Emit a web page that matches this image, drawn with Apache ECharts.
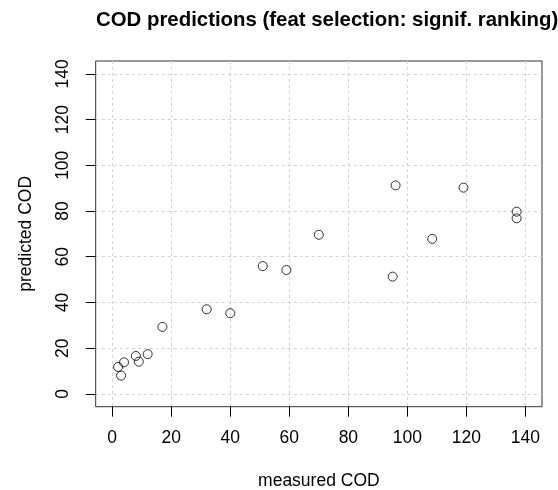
<!DOCTYPE html>
<html>
<head>
<meta charset="utf-8">
<script src="https://cdn.jsdelivr.net/npm/echarts@6/dist/echarts.min.js"></script>
<style>html,body{margin:0;padding:0;background:#fff;}#c{width:558px;height:490px;}</style>
</head>
<body>
<div id="c"></div>
<script>
var measured  = [2, 3, 4, 8, 9, 12, 17, 32, 40, 51, 59, 70, 95, 96, 108.4, 119, 137, 137];
var predicted = [11.8, 8, 13.8, 16.6, 14.1, 17.4, 29.3, 37, 35.3, 55.9, 54.2, 69.6, 51.3, 91.2, 67.8, 90.2, 79.7, 76.8];
var xTicks = [0, 20, 40, 60, 80, 100, 120, 140];
var yTicks = [0, 20, 40, 60, 80, 100, 120, 140];
var xLim = [0, 140];
var yLim = [0, 140];

var points = measured.map(function (m, i) { return [m, predicted[i]]; });
function ext(lim) { var d = (lim[1] - lim[0]) * 0.04; return [lim[0] - d, lim[1] + d]; }
var xr = ext(xLim), yr = ext(yLim);
var FONT = '"Liberation Sans", Arial, sans-serif';

var chart = echarts.init(document.getElementById('c'), null, {renderer: 'canvas'});
chart.setOption({
  animation: false,
  backgroundColor: '#fff',
  title: {
    text: 'COD predictions (feat selection: signif. ranking)',
    left: 91, top: 5,
    textStyle: {fontFamily: FONT, fontSize: 20.4, fontWeight: 'bold', color: '#000'}
  },
  grid: {left: 95.7, right: 16, top: 61, bottom: 83.3, outerBoundsMode: 'none', containLabel: false,
         show: true, borderColor: '#333', borderWidth: 1, backgroundColor: 'transparent'},
  xAxis: {
    type: 'value', min: xr[0], max: xr[1],
    name: 'measured COD', nameLocation: 'middle', nameGap: 65,
    nameTextStyle: {fontFamily: FONT, fontSize: 17.5, color: '#000'},
    axisLine: {show: false, onZero: false},
    axisTick: {show: true, length: 10, customValues: xTicks, lineStyle: {color: '#000'}},
    axisLabel: {customValues: xTicks, margin: 22, fontFamily: FONT, fontSize: 17.5, color: '#000'},
    splitLine: {show: true, lineStyle: {color: '#d3d3d3', type: [3, 3], width: 1}}
  },
  yAxis: {
    type: 'value', min: yr[0], max: yr[1],
    name: 'predicted COD', nameLocation: 'middle', nameGap: 61, nameRotate: 90,
    nameTextStyle: {fontFamily: FONT, fontSize: 17.5, color: '#000'},
    axisLine: {show: false, onZero: false},
    axisTick: {show: true, length: 10, customValues: yTicks, lineStyle: {color: '#000'}},
    axisLabel: {customValues: yTicks, rotate: 90, margin: 24, fontFamily: FONT, fontSize: 17.5, color: '#000'},
    splitLine: {show: true, lineStyle: {color: '#d3d3d3', type: [3, 3], width: 1}}
  },
  series: [{
    type: 'scatter',
    data: points,
    symbol: 'circle',
    symbolSize: 9,
    itemStyle: {color: 'transparent', borderColor: '#000', borderWidth: 1},
    emphasis: {disabled: true}
  }]
});
</script>
</body>
</html>
